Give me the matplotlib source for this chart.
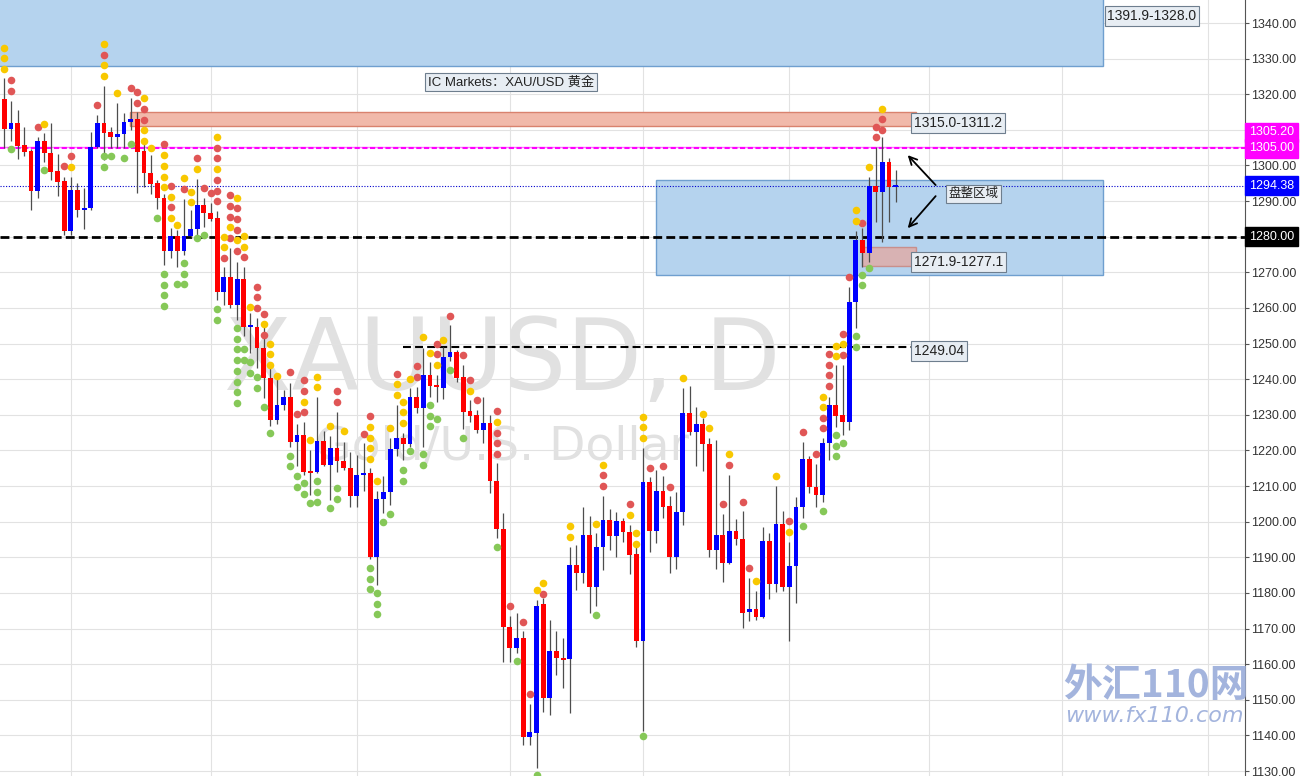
import matplotlib
matplotlib.use("Agg")
import matplotlib.pyplot as plt
import matplotlib.patches as patches

# daily candles, bar number 1..135 (left to right)
opens = [1318.7, 1310.2, 1312.0, 1305.8, 1304.0, 1292.8, 1306.9, 1303.5, 1298.5, 1295.6,
         1281.6, 1293.0, 1287.5, 1288.0, 1305.2, 1312.0, 1309.4, 1308.0, 1308.8, 1312.2,
         1313.0, 1304.0, 1297.9, 1295.0, 1291.0, 1276.0, 1280.2, 1276.0, 1280.2, 1282.2,
         1289.0, 1286.7, 1285.3, 1264.5, 1268.7, 1260.8, 1268.1, 1254.7, 1254.7, 1248.8,
         1240.3, 1228.5, 1232.8, 1235.0, 1222.5, 1224.4, 1214.0, 1214.0, 1222.7, 1215.9,
         1220.8, 1217.0, 1215.0, 1207.2, 1213.1, 1213.8, 1190.2, 1206.4, 1208.2, 1220.4,
         1223.6, 1221.8, 1234.9, 1231.8, 1241.2, 1238.4, 1237.5, 1246.2, 1247.7, 1240.5,
         1231.0, 1230.0, 1225.6, 1227.6, 1211.3, 1197.9, 1170.4, 1164.5, 1167.3, 1139.5,
         1140.8, 1176.9, 1150.5, 1163.6, 1161.7, 1161.4, 1187.9, 1185.7, 1196.3, 1181.6,
         1192.9, 1200.5, 1196.1, 1200.2, 1197.0, 1191.0, 1166.4, 1211.1, 1197.5, 1208.7,
         1204.3, 1190.0, 1202.7, 1230.6, 1225.3, 1227.5, 1221.9, 1192.1, 1196.3, 1188.4,
         1197.4, 1195.1, 1174.6, 1175.4, 1173.2, 1194.6, 1182.4, 1199.4, 1181.6, 1187.6,
         1204.2, 1217.6, 1209.8, 1207.5, 1222.0, 1232.8, 1230.0, 1228.1, 1261.6, 1279.1,
         1275.5, 1294.2, 1292.6, 1301.1, 1294.0]
highs = [1324.6, 1318.0, 1315.6, 1310.8, 1304.5, 1308.0, 1309.0, 1312.0, 1303.2, 1296.8,
         1296.8, 1295.0, 1293.7, 1309.4, 1314.2, 1322.3, 1310.8, 1317.5, 1314.7, 1319.0,
         1315.0, 1306.0, 1303.0, 1296.0, 1292.0, 1282.4, 1282.0, 1290.6, 1287.5, 1296.2,
         1290.9, 1289.5, 1287.2, 1271.4, 1276.8, 1272.8, 1271.5, 1258.6, 1257.2, 1255.0,
         1244.0, 1241.2, 1237.0, 1239.0, 1227.4, 1228.0, 1220.0, 1235.1, 1225.5, 1224.1,
         1230.7, 1222.5, 1219.7, 1218.7, 1222.0, 1215.0, 1208.5, 1212.9, 1223.4, 1232.8,
         1224.8, 1237.5, 1237.9, 1248.7, 1244.9, 1241.2, 1249.1, 1255.2, 1248.2, 1244.0,
         1234.2, 1231.4, 1235.1, 1230.0, 1216.4, 1202.4, 1173.4, 1174.3, 1169.2, 1148.9,
         1178.1, 1178.5, 1172.4, 1169.2, 1167.3, 1193.0, 1193.5, 1204.2, 1201.6, 1196.8,
         1207.3, 1203.5, 1202.6, 1201.0, 1199.1, 1193.0, 1220.6, 1212.5, 1214.6, 1212.9,
         1207.1, 1208.2, 1237.5, 1238.0, 1232.1, 1229.0, 1223.4, 1223.0, 1202.2, 1213.2,
         1200.8, 1202.9, 1184.1, 1180.6, 1198.6, 1196.8, 1210.0, 1203.1, 1194.4, 1206.9,
         1222.5, 1218.3, 1216.2, 1223.4, 1235.1, 1244.0, 1244.0, 1266.0, 1281.6, 1282.4,
         1296.9, 1305.3, 1308.1, 1302.1, 1298.7]
lows = [1304.9, 1307.0, 1301.8, 1302.7, 1287.5, 1290.9, 1301.0, 1296.0, 1291.4, 1280.5,
        1280.5, 1285.5, 1282.2, 1287.5, 1305.0, 1301.5, 1305.0, 1305.0, 1305.0, 1310.0,
        1292.3, 1294.0, 1292.0, 1287.8, 1272.0, 1274.0, 1271.6, 1275.0, 1280.0, 1280.0,
        1282.7, 1284.5, 1262.2, 1260.8, 1260.0, 1256.6, 1252.0, 1247.4, 1243.2, 1234.6,
        1227.0, 1227.5, 1231.4, 1221.0, 1215.5, 1213.0, 1207.5, 1213.6, 1215.5, 1206.1,
        1214.0, 1214.5, 1204.0, 1204.0, 1208.5, 1189.5, 1182.3, 1202.4, 1204.7, 1218.3,
        1217.3, 1221.1, 1230.4, 1221.0, 1235.1, 1233.7, 1234.4, 1245.0, 1239.3, 1226.0,
        1228.1, 1224.8, 1222.0, 1208.0, 1195.4, 1160.5, 1160.7, 1163.1, 1137.4, 1137.4,
        1130.8, 1146.7, 1145.8, 1157.0, 1153.3, 1146.2, 1180.9, 1182.7, 1174.5, 1176.2,
        1186.5, 1192.0, 1190.0, 1194.4, 1185.3, 1164.8, 1141.1, 1191.4, 1194.0, 1201.0,
        1185.6, 1186.7, 1199.1, 1224.4, 1215.5, 1214.1, 1190.2, 1186.8, 1183.2, 1188.0,
        1193.5, 1170.1, 1172.0, 1172.4, 1173.0, 1178.2, 1180.2, 1180.4, 1166.4, 1177.1,
        1201.0, 1208.0, 1204.0, 1205.6, 1217.3, 1226.7, 1224.3, 1225.8, 1254.4, 1271.6,
        1273.0, 1284.2, 1278.6, 1284.2, 1289.8]
closes = [1310.2, 1312.0, 1305.5, 1303.8, 1292.8, 1306.9, 1303.5, 1298.2, 1295.4, 1281.6,
          1293.0, 1287.5, 1288.0, 1305.2, 1312.0, 1309.1, 1308.0, 1308.8, 1312.2, 1313.0,
          1303.8, 1297.9, 1294.8, 1291.0, 1276.0, 1280.2, 1276.0, 1280.2, 1282.2, 1289.0,
          1286.7, 1285.0, 1264.5, 1268.7, 1260.8, 1268.1, 1254.7, 1255.2, 1248.8, 1240.3,
          1228.5, 1232.8, 1235.0, 1222.5, 1224.4, 1214.0, 1213.8, 1222.7, 1215.9, 1220.8,
          1216.9, 1215.0, 1207.2, 1213.1, 1213.8, 1190.2, 1206.4, 1208.2, 1220.4, 1223.6,
          1221.8, 1234.9, 1231.8, 1241.2, 1238.2, 1237.7, 1246.2, 1247.7, 1240.4, 1230.9,
          1229.8, 1225.6, 1227.6, 1211.3, 1197.9, 1170.4, 1164.5, 1167.3, 1139.5, 1140.9,
          1176.2, 1150.5, 1163.6, 1161.7, 1161.2, 1187.9, 1185.7, 1196.3, 1181.6, 1192.9,
          1200.5, 1196.1, 1200.2, 1197.0, 1190.7, 1166.4, 1211.1, 1197.5, 1208.7, 1204.1,
          1190.0, 1202.7, 1230.6, 1225.3, 1227.5, 1221.8, 1192.1, 1196.3, 1188.4, 1197.4,
          1195.1, 1174.5, 1175.4, 1173.2, 1194.6, 1182.4, 1199.4, 1181.6, 1187.6, 1204.2,
          1217.6, 1209.8, 1207.5, 1222.0, 1232.8, 1229.8, 1228.1, 1261.6, 1279.1, 1275.5,
          1294.2, 1292.6, 1301.1, 1294.0, 1294.38]

# indicator dots: (bar, price)
yellow_dots = [(1, 1333), (1, 1330.2), (1, 1327.1), (7, 1311.6), (11, 1299.6), (16, 1334.1),
               (16, 1328.2), (16, 1325.1), (18, 1320.3), (22, 1319), (22, 1310), (22, 1306.9),
               (23, 1304.9), (25, 1303), (25, 1299.9), (25, 1296.8), (25, 1294), (26, 1291.2),
               (26, 1285.3), (27, 1283.3), (28, 1296.5), (29, 1292.6), (29, 1289.7), (30, 1299),
               (33, 1308), (33, 1299), (34, 1279.9), (34, 1277.1), (35, 1282.7), (36, 1290.9),
               (36, 1279.1), (37, 1280.2), (37, 1277.1), (38, 1260.3), (40, 1255.5), (41, 1249.9),
               (41, 1247.1), (41, 1244), (42, 1240.9), (46, 1233.7), (47, 1222.8), (48, 1240.7),
               (48, 1237.7), (50, 1226.9), (52, 1225.5), (56, 1226.6), (56, 1223.6), (56, 1220.6),
               (56, 1217.6), (57, 1211.3), (59, 1226.4), (60, 1238.6), (60, 1235.6), (61, 1233.5),
               (61, 1230.7), (61, 1227.6), (62, 1240), (64, 1251.8), (65, 1247.3), (66, 1244),
               (67, 1251), (71, 1236.8), (75, 1227.9), (81, 1180.9), (82, 1182.7), (86, 1198.8),
               (86, 1195.6), (90, 1199.4), (91, 1215.9), (95, 1201.8), (96, 1196.8), (96, 1193.8),
               (97, 1229.3), (97, 1226.5), (97, 1223.4), (103, 1240.3), (106, 1230.2), (107, 1226.2),
               (110, 1219), (114, 1183.4), (117, 1212.7), (119, 1197), (124, 1232.1), (124, 1235.1),
               (126, 1249.4), (126, 1246.5), (127, 1249.8), (129, 1287.5), (129, 1284.4),
               (131, 1299.7), (133, 1315.9)]
red_dots = [(2, 1324), (2, 1320.9), (6, 1310.8), (10, 1299.9), (11, 1302.7), (15, 1317), (16, 1331),
            (20, 1321.8), (21, 1320.6), (21, 1317.5), (22, 1315.9), (22, 1312.8), (25, 1306),
            (26, 1294.2), (26, 1288.3), (28, 1293.4), (30, 1302.1), (31, 1293.7), (32, 1292.3),
            (33, 1304.9), (33, 1302.1), (33, 1296), (33, 1292.8), (33, 1290), (34, 1274),
            (35, 1291.7), (35, 1288.6), (35, 1285.5), (35, 1279.6), (36, 1288), (36, 1285),
            (36, 1281.9), (36, 1276), (37, 1274.3), (39, 1265.9), (39, 1263.1), (39, 1260),
            (40, 1258.3), (40, 1252.4), (44, 1241.9), (45, 1230.2), (46, 1239.8), (46, 1236.8),
            (46, 1230.7), (51, 1236.7), (51, 1233.6), (55, 1224.6), (56, 1229.7), (60, 1241.5),
            (63, 1243.7), (63, 1240.5), (66, 1249.9), (66, 1247.1), (68, 1257.8), (70, 1246.8),
            (71, 1239.8), (72, 1234.2), (75, 1231.1), (75, 1224.8), (75, 1222), (75, 1219),
            (77, 1176.2), (79, 1171.9), (80, 1151.7), (82, 1179.7), (91, 1213.1), (91, 1210),
            (95, 1205), (98, 1215), (100, 1215.6), (101, 1209.8), (109, 1205), (110, 1215.9),
            (112, 1205.5), (113, 1186.9), (119, 1200.2), (121, 1225.1), (123, 1218.9),
            (124, 1226.2), (124, 1229.2), (125, 1247.1), (125, 1244), (125, 1241.1), (125, 1238.1),
            (127, 1252.6), (127, 1246.7), (128, 1268.8), (130, 1283.9), (132, 1310.9),
            (132, 1307.9), (133, 1313), (133, 1310)]
green_dots = [(2, 1304.6), (7, 1298.7), (16, 1302.7), (16, 1299.6), (17, 1302.7), (19, 1302.1),
              (20, 1306), (24, 1285.3), (25, 1269.5), (25, 1266.4), (25, 1263.6), (25, 1260.5),
              (27, 1266.7), (28, 1272.6), (28, 1269.5), (28, 1266.7), (30, 1279.6), (31, 1280.5),
              (33, 1259.7), (33, 1256.6), (36, 1254.4), (36, 1251.3), (36, 1248.5), (36, 1245.4),
              (36, 1242.3), (36, 1239.2), (36, 1236.4), (36, 1233.3), (37, 1248.5), (37, 1245.4),
              (38, 1244.8), (38, 1241.7), (39, 1240.6), (39, 1237.5), (40, 1232.2), (41, 1224.9),
              (44, 1218.5), (44, 1215.5), (45, 1212.7), (45, 1209.7), (46, 1210.8), (46, 1207.8),
              (47, 1205.2), (48, 1211.3), (48, 1208.3), (48, 1205.5), (50, 1203.8), (51, 1209.4),
              (51, 1206.4), (56, 1187), (56, 1184), (56, 1181), (57, 1179.9), (57, 1176.9),
              (57, 1174.1), (58, 1200), (59, 1202.2), (61, 1214.5), (61, 1211.4), (62, 1219.9),
              (64, 1219), (64, 1216), (65, 1232.7), (65, 1229.7), (65, 1226.9), (66, 1228.9),
              (68, 1242.6), (70, 1223.6), (75, 1192.8), (78, 1161), (81, 1128.9), (90, 1173.7),
              (97, 1139.7), (121, 1198.8), (124, 1203.1), (126, 1224.3), (126, 1221.3),
              (126, 1218.5), (127, 1222), (129, 1252), (129, 1249), (130, 1269.3), (130, 1266.4),
              (131, 1271.3)]

# zones and levels drawn on the chart
top_zone = (1328.0, 1391.9)
resist_zone = (1311.2, 1315.0)
range_zone = (1269.3, 1296.0)
support_zone = (1271.9, 1277.1)
level_magenta = 1305.0
level_magenta2 = 1305.2
level_last = 1294.38
level_1280 = 1280.0
level_1249 = 1249.04
month_bars = [11, 32, 54, 77, 97, 119, 140, 160, 182]

RED = "#ff0000"
BLUE = "#0000ff"
LABEL_FONT = ["Liberation Sans", "Noto Sans CJK SC", "DejaVu Sans"]

fig = plt.figure(figsize=(13.06, 7.76), dpi=100)
ax = fig.add_axes([0, 0, 1245 / 1306, 1])
ax.set_xlim(0.354, 187.5)
ax.set_ylim(1128.6, 1346.46)

# grid
ax.set_yticks(range(1130, 1341, 10))
ax.set_xticks(month_bars)
ax.grid(True, color="#e2e2e2", lw=0.8, zorder=0)
ax.set_axisbelow(True)
ax.tick_params(axis="x", length=0, labelbottom=False)
ax.yaxis.tick_right()
ax.tick_params(axis="y", length=3, pad=1.5, color="#555555", labelsize=9, labelcolor="#333333")
ax.set_yticklabels(["" if v in (1280, 1310) else "%.2f" % v for v in range(1130, 1341, 10)],
                   family="Liberation Sans")
for s in ["left", "top", "bottom"]:
    ax.spines[s].set_visible(False)
ax.spines["right"].set_color("#555555")

# watermark
ax.text(75.8, 1237.0, "XAUUSD, D", fontsize=71, color="#e1e1e1", ha="center",
        va="baseline", zorder=0.5)
ax.text(75.8, 1217.3, "Gold/U.S. Dollar", fontsize=34, color="#e1e1e1", ha="center",
        va="baseline", zorder=0.5)

# zones
ax.add_patch(patches.Rectangle((-5, top_zone[0]), 171.1, top_zone[1] - top_zone[0],
                               fc="#b5d3ee", ec="#6f9fcf", lw=1, zorder=1))
ax.add_patch(patches.Rectangle((99.0, range_zone[0]), 67.1, range_zone[1] - range_zone[0],
                               fc="#b5d3ee", ec="#6f9fcf", lw=1, zorder=1))
ax.add_patch(patches.Rectangle((19.9, resist_zone[0]), 118.1, resist_zone[1] - resist_zone[0],
                               fc="#f1b9aa", ec="#d9826e", lw=1, zorder=1))
ax.add_patch(patches.Rectangle((130.0, support_zone[0]), 8.0, support_zone[1] - support_zone[0],
                               fc="#e8a49a", ec="#c97a70", lw=1, alpha=0.7, zorder=1.1))

# levels
ax.axhline(level_magenta2, color="#ff77ff", lw=1.0, zorder=1.5)
ax.axhline(level_magenta, color="#ff00ff", lw=1.5, dashes=(2.5, 1.2), zorder=1.6)
ax.axhline(level_last, color="#0000cc", lw=0.8, dashes=(1, 1.5), zorder=1.6)
ax.axhline(level_1280, color="black", lw=2, dashes=(3.2, 1.5), zorder=1.6)
ax.plot([60.9, 137.5], [level_1249, level_1249], color="black", lw=1.5, dashes=(3.8, 2),
        zorder=1.6)

# candles
bars = list(range(1, len(opens) + 1))
ax.vlines(bars, lows, highs, color="#4d4d4d", lw=0.9, zorder=2.9)
for b, o, c in zip(bars, opens, closes):
    h = max(abs(c - o), 0.4)
    ax.bar(b, h, bottom=min(o, c), width=0.72, color=BLUE if c >= o else RED, lw=0, zorder=3)

# indicator dots
for dots, col in [(red_dots, "#e05656"), (yellow_dots, "#f8c800"), (green_dots, "#86c858")]:
    xs = [d[0] for d in dots]
    ys = [d[1] for d in dots]
    ax.scatter(xs, ys, s=30, color=col, linewidths=0, zorder=4)

# labels
box = dict(boxstyle="square,pad=0.2", fc="#e7edf3", ec="#6e7e8e", lw=0.8)
ax.text(166.8, 1342.0, "1391.9-1328.0", fontsize=10, family=LABEL_FONT, color="#222222",
        va="center", ha="left", bbox=box, zorder=6)
ax.text(137.7, 1311.9, "1315.0-1311.2", fontsize=10, family=LABEL_FONT, color="#222222",
        va="center", ha="left", bbox=box, zorder=6)
ax.text(137.7, 1272.9, "1271.9-1277.1", fontsize=10, family=LABEL_FONT, color="#222222",
        va="center", ha="left", bbox=box, zorder=6)
ax.text(137.7, 1247.9, "1249.04", fontsize=10, family=LABEL_FONT, color="#222222",
        va="center", ha="left", bbox=box, zorder=6)
ax.text(77.2, 1323.4, "IC Markets：XAU/USD 黄金", fontsize=9.5, family=LABEL_FONT,
        color="#222222", va="center", ha="center", bbox=box, zorder=6)
ax.text(142.9, 1292.1, "盘整区域", fontsize=9, family=["Noto Sans CJK SC", "DejaVu Sans"],
        color="#222222", va="center", ha="left", bbox=box, zorder=6)

arrow = dict(arrowstyle="->", color="black", lw=1.3, mutation_scale=14, shrinkA=0, shrinkB=0)
ax.annotate("", xy=(136.8, 1302.9), xytext=(141.0, 1294.5), arrowprops=arrow, zorder=6)
ax.annotate("", xy=(136.8, 1282.4), xytext=(141.0, 1291.4), arrowprops=arrow, zorder=6)

# price tags on the axis
for price, txt, bg in [(1309.3, "1305.20", "#ff00ff"), (1304.8, "1305.00", "#ff00ff"),
                       (level_last, "1294.38", "#0000ff"), (level_1280, "1280.00", "#000000")]:
    ax.annotate(txt, xy=(1, price), xycoords=("axes fraction", "data"), xytext=(3.0, 0),
                textcoords="offset points", ha="left", va="center", fontsize=9,
                family="Liberation Sans", color="white",
                bbox=dict(boxstyle="square,pad=0.3", fc=bg, ec=bg),
                annotation_clip=False, zorder=10)

# site watermark
ax.text(160.2, 1150.8, "外汇110网", fontsize=28, weight="bold", color="#a3b4dd",
        family=["Noto Sans CJK SC", "DejaVu Sans"], va="baseline", ha="left",
        clip_on=False, zorder=7)
ax.text(160.4, 1143.8, "www.fx110.com", fontsize=16, style="italic", color="#a3b4dd",
        va="baseline", ha="left", clip_on=False, zorder=7)

fig.savefig("out.png", dpi=100)
